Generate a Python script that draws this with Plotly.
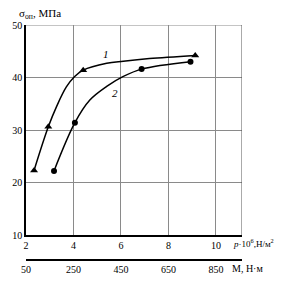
import plotly.graph_objects as go

# Plotted points, curve 1 (triangles)
p1 = [2.34, 2.94, 4.41, 9.13]
s1 = [22.3, 30.6, 41.4, 44.2]
# Plotted points, curve 2 (circles)
p2 = [3.18, 4.06, 6.87, 8.93]
s2 = [22.2, 31.4, 41.6, 43.0]

# Drawn smooth curves
c1_p = [2.34, 2.94, 3.3, 3.7, 4.05, 4.41, 5.4, 6.1, 7.2, 9.13]
c1_s = [22.3, 30.6, 34.6, 38.2, 40.2, 41.4, 42.7, 43.1, 43.6, 44.2]
c2_p = [3.18, 4.06, 4.69, 5.40, 6.10, 6.87, 8.93]
c2_s = [22.2, 31.4, 35.7, 38.3, 40.2, 41.6, 43.0]

p_ticks = [2, 4, 6, 8, 10]
m_ticks = [50, 250, 450, 650, 850]
y_ticks = [10, 20, 30, 40, 50]

FONT = "Liberation Serif"
fig = go.Figure()
fig.add_trace(go.Scatter(x=c1_p, y=c1_s, mode="lines", line=dict(color="black", width=1.5, shape="spline", smoothing=1.0),
                         showlegend=False, hoverinfo="skip"))
fig.add_trace(go.Scatter(x=c2_p, y=c2_s, mode="lines", line=dict(color="black", width=1.5, shape="spline", smoothing=1.0),
                         showlegend=False, hoverinfo="skip"))
fig.add_trace(go.Scatter(x=p1, y=s1, mode="markers",
                         marker=dict(symbol="triangle-up", size=7, color="black"), showlegend=False))
fig.add_trace(go.Scatter(x=p2, y=s2, mode="markers",
                         marker=dict(symbol="circle", size=6, color="black"), showlegend=False))
# dummy trace for second x axis
fig.add_trace(go.Scatter(x=[m_ticks[0]], y=[None], xaxis="x2", yaxis="y", showlegend=False, hoverinfo="skip"))

ydom0 = 25 / 235
fig.update_layout(
    width=292, height=292,
    margin=dict(l=26, r=50, t=25, b=32),
    paper_bgcolor="white", plot_bgcolor="white",
    font=dict(family=FONT, size=10, color="black"),
    xaxis=dict(range=[2, 11.1], tickvals=p_ticks, ticktext=[str(v) for v in p_ticks],
               showgrid=True, gridcolor="#8a8a8a", gridwidth=1, zeroline=False,
               showline=True, linecolor="black", linewidth=1.5, ticks="", anchor="y"),
    xaxis2=dict(range=[50, 960], tickvals=m_ticks, ticktext=[str(v) for v in m_ticks],
                overlaying="x", anchor="free", position=0, side="bottom",
                showgrid=False, zeroline=False, showline=True, linecolor="black", linewidth=1.5, ticks=""),
    yaxis=dict(range=[10, 50], tickvals=y_ticks, domain=[ydom0, 1],
               showgrid=True, gridcolor="#8a8a8a", gridwidth=1, zeroline=False,
               showline=True, linecolor="black", linewidth=1.5, ticks=""),
    shapes=[
        dict(type="line", xref="x", yref="y", x0=2, x1=11.1, y0=50, y1=50, line=dict(color="#8a8a8a", width=1)),
        dict(type="line", xref="x", yref="y", x0=11.1, x1=11.1, y0=10, y1=50, line=dict(color="#555555", width=1)),
    ],
    annotations=[
        dict(text="σ<sub>оп</sub>, МПа", xref="paper", yref="paper", x=-0.04, y=1.045, xanchor="left", yanchor="middle",
             showarrow=False, font=dict(size=11)),
        dict(text="<i>1</i>", xref="x", yref="y", x=5.37, y=44.4, showarrow=False, font=dict(size=11)),
        dict(text="<i>2</i>", xref="x", yref="y", x=5.75, y=37.0, showarrow=False, font=dict(size=11)),
        dict(text="<i>p</i>·10<sup>6</sup>,Н/м<sup>2</sup>", xref="paper", yref="paper", x=0.95, y=0.072,
             xanchor="left", yanchor="middle", showarrow=False, font=dict(size=9)),
        dict(text="М, Н·м", xref="paper", yref="paper", x=0.944, y=-0.038,
             xanchor="left", yanchor="middle", showarrow=False, font=dict(size=10)),
    ],
)
fig.write_html("out.html")
